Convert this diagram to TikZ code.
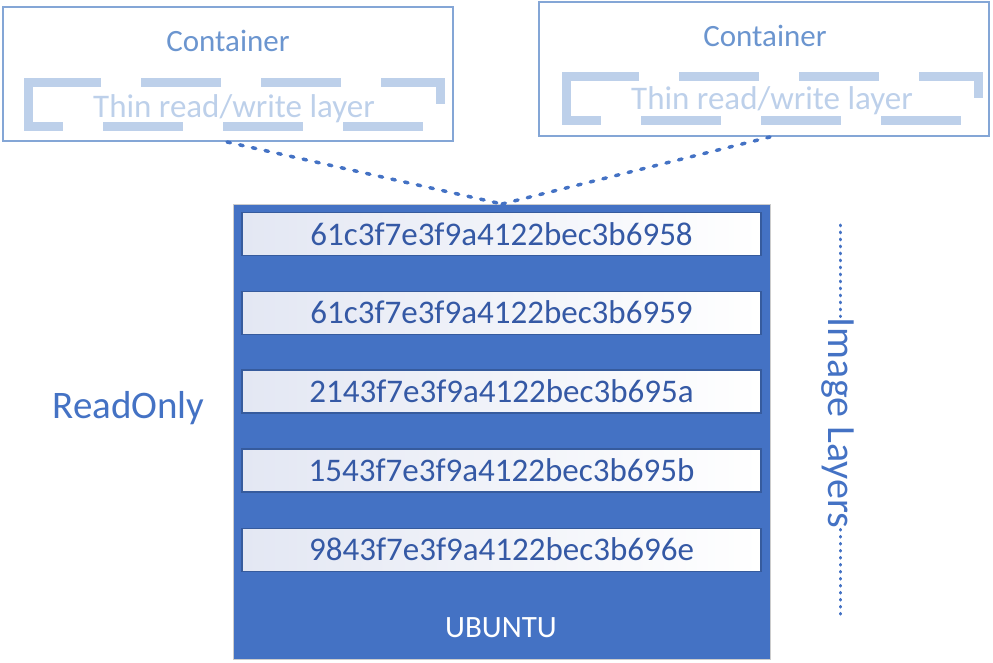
\documentclass[tikz,border=0pt]{standalone}
\usepackage{fontspec}
\setmainfont{Carlito}

\definecolor{layerblue}{HTML}{4472C4}
\definecolor{hashtext}{HTML}{3559A5}
\definecolor{hashshade}{HTML}{E3E7F3}
\definecolor{boxline}{HTML}{84A6D6}
\definecolor{boxtext}{HTML}{6B95CF}
\definecolor{thinlayer}{HTML}{BDD0EA}

\tikzset{
  containerbox/.style={draw=boxline, line width=2pt, minimum width=450pt, minimum height=134pt, inner sep=0pt},
  rwlayer/.style={draw=thinlayer, line width=9pt, dash pattern=on 80pt off 40pt, dash phase=45pt},
  hashbox/.style={draw=layerblue!80!black, line width=1.2pt, left color=hashshade, right color=white,
    minimum width=519pt, minimum height=43pt, inner sep=0pt, text=hashtext, font=\fontsize{33}{36}\selectfont},
  linkline/.style={draw=layerblue, line width=3.5pt, line cap=round, dash pattern=on 3.5pt off 9.5pt},
  dotline/.style={draw=layerblue, line width=3pt, line cap=round, dash pattern=on 0.8pt off 6.2pt}
}

\begin{document}
\begin{tikzpicture}[x=1pt,y=-1pt]

  \useasboundingbox (0,0) rectangle (993,663);

  % The left container.
  \node[containerbox] (cleft) at (228,74.5) {};
  \node[text=boxtext, font=\fontsize{31}{34}\selectfont] (cleftlabel) at (228,41) {Container};
  \draw[rwlayer] (28,127) -- (440,127) -- (440,83) -- (28,83) -- cycle;
  \draw[draw=thinlayer, line width=9pt] (28,78.5) -- (28,131.5);
  \node[text=thinlayer, anchor=base, font=\fontsize{33}{36}\selectfont] (rwleft) at (234,118) {Thin read/write layer};

  % The right container.
  \node[containerbox] (cright) at (763.5,69) {};
  \node[text=boxtext, font=\fontsize{31}{34}\selectfont] (crightlabel) at (765,35.5) {Container};
  \draw[rwlayer] (566,121) -- (978,121) -- (978,77) -- (566,77) -- cycle;
  \draw[draw=thinlayer, line width=9pt] (566,72.5) -- (566,125.5);
  \node[text=thinlayer, anchor=base, font=\fontsize{33}{36}\selectfont] (rwright) at (772,110) {Thin read/write layer};

  % The image, with its read only layers.
  \node[fill=layerblue, draw=gray!40, line width=1pt, minimum width=537pt, minimum height=455pt, inner sep=0pt] (image) at (501.5,432) {};
  \node[hashbox] (layer1) at (501.5,233.7) {61c3f7e3f9a4122bec3b6958};
  \node[hashbox] (layer2) at (501.5,312.6) {61c3f7e3f9a4122bec3b6959};
  \node[hashbox] (layer3) at (501.5,391.5) {2143f7e3f9a4122bec3b695a};
  \node[hashbox] (layer4) at (501.5,470.5) {1543f7e3f9a4122bec3b695b};
  \node[hashbox] (layer5) at (501.5,549.6) {9843f7e3f9a4122bec3b696e};
  \node[text=white, font=\fontsize{31}{34}\selectfont] (ubuntu) at (501,628) {UBUNTU};

  % The containers share the top of the image.
  \coordinate (imagetop) at (502,204);
  \draw[linkline] (227,142) -- (imagetop);
  \draw[linkline] (imagetop) -- (cright.south -| 770,0);

  % Labels at the sides.
  \node[text=layerblue, font=\fontsize{39}{42}\selectfont] (readonly) at (128.5,408) {ReadOnly};
  \node[text=layerblue, rotate=-90, inner sep=1pt, font=\fontsize{40}{43}\selectfont] (imglayers) at (838,423) {Image Layers};
  \coordinate (lyrtop) at (840,225);
  \coordinate (lyrbottom) at (840,617);
  \draw[dotline] (lyrtop) -- (imglayers.west -| lyrtop);
  \draw[dotline] (imglayers.east -| lyrbottom) -- (lyrbottom);

\end{tikzpicture}
\end{document}
